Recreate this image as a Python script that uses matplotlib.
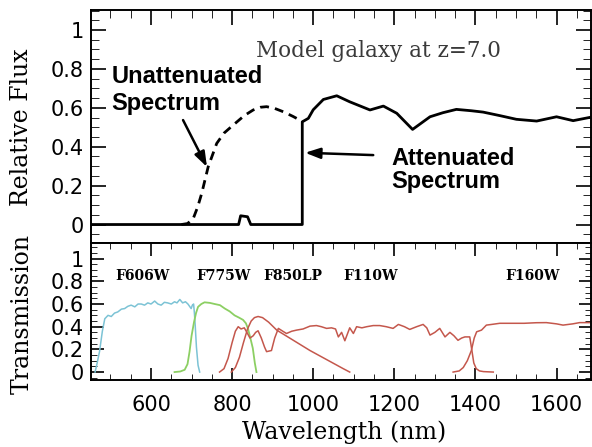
import matplotlib
matplotlib.use("Agg")
import matplotlib.pyplot as plt
from matplotlib.ticker import MultipleLocator, FuncFormatter

# ---------------- data ----------------
att_wl = [450, 816, 821, 838, 846, 973, 973, 988, 1000, 1025, 1058, 1090, 1140, 1173,
          1206, 1245, 1288, 1320, 1353, 1390, 1419, 1460, 1501, 1551, 1580, 1600, 1641, 1690]
att_flux = [0, 0, 0.045, 0.04, 0, 0, 0.528, 0.546, 0.59, 0.643, 0.662, 0.631, 0.589, 0.609,
            0.572, 0.489, 0.554, 0.575, 0.592, 0.585, 0.578, 0.56, 0.541, 0.532, 0.545, 0.554, 0.534, 0.554]

unatt_wl = [675, 690, 704, 715, 725, 741, 762, 780, 803, 830, 852, 870, 885, 905, 926, 950, 967, 973]
unatt_flux = [0, 0.005, 0.03, 0.09, 0.16, 0.297, 0.417, 0.47, 0.512, 0.56, 0.589, 0.603, 0.606,
              0.597, 0.58, 0.556, 0.537, 0.528]

f606_wl = [462, 466, 473, 480, 486, 494, 502, 510, 518, 527, 535, 543, 551, 560, 568, 576, 584,
           592, 600, 609, 617, 625, 633, 641, 650, 658, 664, 671, 678, 685, 691, 695, 699, 702,
           705, 707, 709, 712, 716, 720]
f606_T = [0, 0.06, 0.18, 0.36, 0.47, 0.50, 0.49, 0.52, 0.53, 0.555, 0.56, 0.58, 0.59, 0.575,
          0.60, 0.60, 0.59, 0.61, 0.60, 0.626, 0.60, 0.59, 0.615, 0.61, 0.60, 0.62, 0.61, 0.64,
          0.61, 0.62, 0.60, 0.58, 0.56, 0.59, 0.60, 0.52, 0.41, 0.22, 0.06, 0]

f775_wl = [658, 672, 683, 690, 695, 700, 706, 711, 716, 724, 732, 745, 757, 770, 782, 794, 806,
           817, 827, 834, 839, 845, 851, 856, 860]
f775_T = [0, 0.005, 0.02, 0.07, 0.18, 0.32, 0.44, 0.52, 0.575, 0.60, 0.615, 0.61, 0.60, 0.59,
          0.56, 0.535, 0.50, 0.48, 0.46, 0.43, 0.385, 0.30, 0.21, 0.08, 0]

f850_wl = [798, 808, 818, 828, 838, 847, 855, 864, 875, 890, 910, 951, 992, 1033, 1074, 1090]
f850_T = [0, 0.04, 0.13, 0.26, 0.38, 0.45, 0.48, 0.49, 0.48, 0.44, 0.37, 0.28, 0.19, 0.11, 0.03, 0]

f110_wl = [769, 780, 790, 800, 808, 815, 822, 830, 838, 844, 852, 858, 864, 872, 880, 885, 891,
           897, 905, 914, 925, 934, 947, 959, 975, 992, 1008, 1020, 1033, 1045, 1055, 1062, 1070,
           1078, 1090, 1099, 1107, 1120, 1132, 1148, 1164, 1180, 1197, 1210, 1225, 1238, 1255,
           1271, 1280, 1288, 1300, 1312, 1325, 1337, 1347, 1357, 1366, 1374, 1386, 1390, 1396,
           1402, 1410, 1420, 1444]
f110_T = [0, 0.03, 0.12, 0.26, 0.36, 0.40, 0.38, 0.39, 0.34, 0.30, 0.32, 0.35, 0.364, 0.30, 0.22,
          0.18, 0.185, 0.19, 0.30, 0.385, 0.36, 0.34, 0.36, 0.37, 0.38, 0.405, 0.41, 0.40, 0.385,
          0.39, 0.38, 0.31, 0.35, 0.276, 0.39, 0.34, 0.40, 0.39, 0.40, 0.41, 0.41, 0.40, 0.385,
          0.42, 0.40, 0.376, 0.40, 0.42, 0.39, 0.326, 0.35, 0.385, 0.31, 0.35, 0.32, 0.28, 0.30,
          0.31, 0.31, 0.22, 0.08, 0.03, 0.01, 0.004, 0]

f160_wl = [1345, 1360, 1370, 1380, 1390, 1397, 1403, 1415, 1427, 1440, 1460, 1490, 1520, 1550,
           1575, 1600, 1616, 1640, 1657, 1690]
f160_T = [0, 0.01, 0.04, 0.10, 0.19, 0.30, 0.355, 0.37, 0.414, 0.42, 0.43, 0.43, 0.43, 0.435,
          0.436, 0.425, 0.414, 0.425, 0.436, 0.436]

filter_names = ["F606W", "F775W", "F850LP", "F110W", "F160W"]
filter_label_x = [511, 711, 877, 1073, 1473]

x_ticks = [600, 800, 1000, 1200, 1400, 1600]

# ---------------- figure ----------------
W, H = 592, 447
fig = plt.figure(figsize=(W / 100, H / 100), dpi=100)

ax1 = fig.add_axes([91 / W, 1 - 243 / H, 500 / W, 233 / H])
ax2 = fig.add_axes([91 / W, 1 - 380 / H, 500 / W, 137 / H])

XLIM = (452, 1685)
fmt = FuncFormatter(lambda v, p: f"{v:g}")

for ax in (ax1, ax2):
    ax.set_xlim(*XLIM)
    ax.xaxis.set_major_locator(MultipleLocator(200))
    ax.xaxis.set_minor_locator(MultipleLocator(50))
    ax.yaxis.set_major_locator(MultipleLocator(0.2))
    ax.yaxis.set_minor_locator(MultipleLocator(0.05))
    ax.yaxis.set_major_formatter(fmt)
    for s in ax.spines.values():
        s.set_linewidth(1.4)
    ax.tick_params(labelsize=15, width=1.2)

ax1.set_ylim(-0.095, 1.103)
ax2.set_ylim(-0.07, 1.138)

ax1.tick_params(which="both", direction="in", top=True, bottom=False, right=True,
                labelbottom=False, pad=5)
ax1.tick_params(which="major", length=11)
ax1.tick_params(which="minor", length=5.5)
ax2.tick_params(which="both", direction="in", top=True, bottom=True, right=True, pad=5)
ax2.tick_params(axis="x", which="major", pad=11)
ax2.tick_params(which="major", length=9)
ax2.tick_params(which="minor", length=4.5)
ax2.set_xticks(x_ticks)
ax2.xaxis.set_major_formatter(fmt)

# spectra
ax1.plot(att_wl, att_flux, color="black", lw=2.0, solid_joinstyle="round")
ax1.plot(unatt_wl, unatt_flux, color="black", lw=2.0, linestyle=(0, (3.2, 2.2)))

ax1.text(860, 0.861, "Model galaxy at z=7.0", family="DejaVu Serif", fontsize=15.5,
         color="#3a3a3a", va="baseline", ha="left")

ann = dict(family="Liberation Sans", fontweight="bold", fontsize=17, va="baseline", ha="left")
ax1.text(503, 0.726, "Unattenuated", **ann)
ax1.text(503, 0.589, "Spectrum", **ann)
ax1.text(1193, 0.306, "Attenuated", **ann)
ax1.text(1193, 0.19, "Spectrum", **ann)

arrowprops = dict(arrowstyle="-|>,head_length=0.9,head_width=0.32", color="black", lw=1.8,
                  shrinkA=0, shrinkB=0)
ax1.annotate("", xy=(738, 0.296), xytext=(679, 0.537), arrowprops=arrowprops)
ax1.annotate("", xy=(980, 0.369), xytext=(1148, 0.357), arrowprops=arrowprops)

# filters
cyan, green, red = "#7cc3d5", "#8ccf63", "#c4574c"
ax2.plot(f606_wl, f606_T, color=cyan, lw=1.1)
ax2.plot(f775_wl, f775_T, color=green, lw=1.3)
ax2.plot(f850_wl, f850_T, color=red, lw=1.1)
ax2.plot(f110_wl, f110_T, color=red, lw=1.1)
ax2.plot(f160_wl, f160_T, color=red, lw=1.1)

for name, x in zip(filter_names, filter_label_x):
    ax2.text(x, 0.811, name, family="DejaVu Serif", fontweight="bold", fontsize=10,
             va="baseline", ha="left")

# axis labels
lab = dict(family="DejaVu Serif", fontsize=17)
fig.text(22 / W, 1 - 127 / H, "Relative Flux", rotation=90, ha="center", va="center", **lab)
fig.text(22 / W, 1 - 314 / H, "Transmission", rotation=90, ha="center", va="center", **lab)
fig.text(344 / W, 1 - 439 / H, "Wavelength (nm)", ha="center", va="baseline", **lab)

fig.savefig("out.png", dpi=100)
